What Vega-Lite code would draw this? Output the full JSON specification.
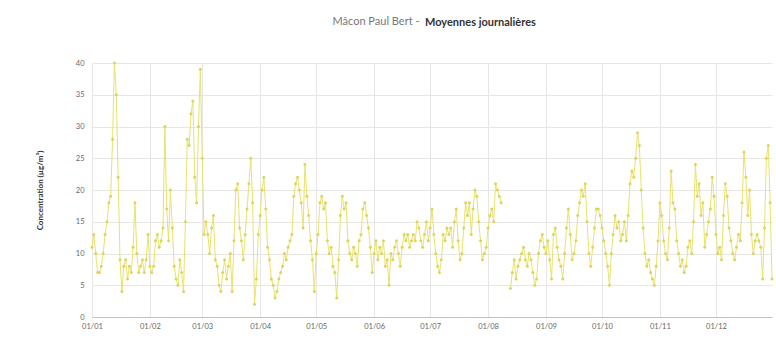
{
"$schema": "https://vega.github.io/schema/vega-lite/v6.json",
"width": 680, "height": 254,
"autosize": "none",
"padding": {"left": 92, "top": 63, "right": 4, "bottom": 26},
"background": "white",
"config": {"view": {"stroke": null}, "font": "Lato"},
"title": {"text": "Moyennes journalières", "anchor": "start", "frame": "group", "dx": 333, "offset": -13, "fontSize": 11, "fontWeight": "bold", "color": "#333333", "font": "Lato"},
"data": {"values": [
{"d":"2018-01-01","v":11},{"d":"2018-01-02","v":13},{"d":"2018-01-03","v":10},{"d":"2018-01-04","v":7},{"d":"2018-01-05","v":7},{"d":"2018-01-06","v":8},{"d":"2018-01-07","v":10},{"d":"2018-01-08","v":13},{"d":"2018-01-09","v":15},{"d":"2018-01-10","v":18},{"d":"2018-01-11","v":19},{"d":"2018-01-12","v":28},{"d":"2018-01-13","v":40},{"d":"2018-01-14","v":35},{"d":"2018-01-15","v":22},{"d":"2018-01-16","v":9},{"d":"2018-01-17","v":4},{"d":"2018-01-18","v":8},{"d":"2018-01-19","v":9},{"d":"2018-01-20","v":6},{"d":"2018-01-21","v":8},{"d":"2018-01-22","v":7},{"d":"2018-01-23","v":11},{"d":"2018-01-24","v":18},{"d":"2018-01-25","v":10},{"d":"2018-01-26","v":7},{"d":"2018-01-27","v":8},{"d":"2018-01-28","v":9},{"d":"2018-01-29","v":7},{"d":"2018-01-30","v":9},{"d":"2018-01-31","v":13},
{"d":"2018-02-01","v":8},{"d":"2018-02-02","v":7},{"d":"2018-02-03","v":8},{"d":"2018-02-04","v":12},{"d":"2018-02-05","v":13},{"d":"2018-02-06","v":11},{"d":"2018-02-07","v":12},{"d":"2018-02-08","v":14},{"d":"2018-02-09","v":30},{"d":"2018-02-10","v":17},{"d":"2018-02-11","v":12},{"d":"2018-02-12","v":20},{"d":"2018-02-13","v":14},{"d":"2018-02-14","v":8},{"d":"2018-02-15","v":6},{"d":"2018-02-16","v":5},{"d":"2018-02-17","v":9},{"d":"2018-02-18","v":7},{"d":"2018-02-19","v":4},{"d":"2018-02-20","v":15},{"d":"2018-02-21","v":28},{"d":"2018-02-22","v":27},{"d":"2018-02-23","v":32},{"d":"2018-02-24","v":34},{"d":"2018-02-25","v":22},{"d":"2018-02-26","v":18},{"d":"2018-02-27","v":30},{"d":"2018-02-28","v":39},
{"d":"2018-03-01","v":25},{"d":"2018-03-02","v":13},{"d":"2018-03-03","v":15},{"d":"2018-03-04","v":13},{"d":"2018-03-05","v":10},{"d":"2018-03-06","v":14},{"d":"2018-03-07","v":16},{"d":"2018-03-08","v":9},{"d":"2018-03-09","v":8},{"d":"2018-03-10","v":5},{"d":"2018-03-11","v":4},{"d":"2018-03-12","v":7},{"d":"2018-03-13","v":9},{"d":"2018-03-14","v":6},{"d":"2018-03-15","v":8},{"d":"2018-03-16","v":10},{"d":"2018-03-17","v":4},{"d":"2018-03-18","v":12},{"d":"2018-03-19","v":20},{"d":"2018-03-20","v":21},{"d":"2018-03-21","v":14},{"d":"2018-03-22","v":12},{"d":"2018-03-23","v":9},{"d":"2018-03-24","v":13},{"d":"2018-03-25","v":17},{"d":"2018-03-26","v":21},{"d":"2018-03-27","v":25},{"d":"2018-03-28","v":18},{"d":"2018-03-29","v":2},{"d":"2018-03-30","v":6},{"d":"2018-03-31","v":13},
{"d":"2018-04-01","v":16},{"d":"2018-04-02","v":20},{"d":"2018-04-03","v":22},{"d":"2018-04-04","v":17},{"d":"2018-04-05","v":11},{"d":"2018-04-06","v":9},{"d":"2018-04-07","v":6},{"d":"2018-04-08","v":5},{"d":"2018-04-09","v":3},{"d":"2018-04-10","v":4},{"d":"2018-04-11","v":6},{"d":"2018-04-12","v":7},{"d":"2018-04-13","v":8},{"d":"2018-04-14","v":10},{"d":"2018-04-15","v":9},{"d":"2018-04-16","v":11},{"d":"2018-04-17","v":12},{"d":"2018-04-18","v":13},{"d":"2018-04-19","v":19},{"d":"2018-04-20","v":21},{"d":"2018-04-21","v":22},{"d":"2018-04-22","v":20},{"d":"2018-04-23","v":18},{"d":"2018-04-24","v":14},{"d":"2018-04-25","v":24},{"d":"2018-04-26","v":19},{"d":"2018-04-27","v":16},{"d":"2018-04-28","v":12},{"d":"2018-04-29","v":9},{"d":"2018-04-30","v":4},
{"d":"2018-05-01","v":10},{"d":"2018-05-02","v":13},{"d":"2018-05-03","v":18},{"d":"2018-05-04","v":19},{"d":"2018-05-05","v":17},{"d":"2018-05-06","v":18},{"d":"2018-05-07","v":12},{"d":"2018-05-08","v":10},{"d":"2018-05-09","v":11},{"d":"2018-05-10","v":8},{"d":"2018-05-11","v":7},{"d":"2018-05-12","v":3},{"d":"2018-05-13","v":9},{"d":"2018-05-14","v":16},{"d":"2018-05-15","v":19},{"d":"2018-05-16","v":17},{"d":"2018-05-17","v":18},{"d":"2018-05-18","v":12},{"d":"2018-05-19","v":10},{"d":"2018-05-20","v":9},{"d":"2018-05-21","v":11},{"d":"2018-05-22","v":10},{"d":"2018-05-23","v":8},{"d":"2018-05-24","v":12},{"d":"2018-05-25","v":13},{"d":"2018-05-26","v":17},{"d":"2018-05-27","v":18},{"d":"2018-05-28","v":16},{"d":"2018-05-29","v":14},{"d":"2018-05-30","v":11},{"d":"2018-05-31","v":7},
{"d":"2018-06-01","v":10},{"d":"2018-06-02","v":12},{"d":"2018-06-03","v":9},{"d":"2018-06-04","v":11},{"d":"2018-06-05","v":10},{"d":"2018-06-06","v":12},{"d":"2018-06-07","v":8},{"d":"2018-06-08","v":9},{"d":"2018-06-09","v":5},{"d":"2018-06-10","v":10},{"d":"2018-06-11","v":9},{"d":"2018-06-12","v":11},{"d":"2018-06-13","v":12},{"d":"2018-06-14","v":10},{"d":"2018-06-15","v":8},{"d":"2018-06-16","v":11},{"d":"2018-06-17","v":13},{"d":"2018-06-18","v":12},{"d":"2018-06-19","v":13},{"d":"2018-06-20","v":11},{"d":"2018-06-21","v":12},{"d":"2018-06-22","v":13},{"d":"2018-06-23","v":12},{"d":"2018-06-24","v":15},{"d":"2018-06-25","v":14},{"d":"2018-06-26","v":12},{"d":"2018-06-27","v":11},{"d":"2018-06-28","v":13},{"d":"2018-06-29","v":15},{"d":"2018-06-30","v":12},
{"d":"2018-07-01","v":14},{"d":"2018-07-02","v":17},{"d":"2018-07-03","v":13},{"d":"2018-07-04","v":10},{"d":"2018-07-05","v":8},{"d":"2018-07-06","v":7},{"d":"2018-07-07","v":9},{"d":"2018-07-08","v":13},{"d":"2018-07-09","v":12},{"d":"2018-07-10","v":14},{"d":"2018-07-11","v":13},{"d":"2018-07-12","v":14},{"d":"2018-07-13","v":11},{"d":"2018-07-14","v":15},{"d":"2018-07-15","v":17},{"d":"2018-07-16","v":12},{"d":"2018-07-17","v":9},{"d":"2018-07-18","v":10},{"d":"2018-07-19","v":14},{"d":"2018-07-20","v":18},{"d":"2018-07-21","v":16},{"d":"2018-07-22","v":18},{"d":"2018-07-23","v":13},{"d":"2018-07-24","v":17},{"d":"2018-07-25","v":20},{"d":"2018-07-26","v":19},{"d":"2018-07-27","v":15},{"d":"2018-07-28","v":12},{"d":"2018-07-29","v":9},{"d":"2018-07-30","v":10},{"d":"2018-07-31","v":11},
{"d":"2018-08-01","v":14},{"d":"2018-08-02","v":16},{"d":"2018-08-03","v":17},{"d":"2018-08-04","v":15},{"d":"2018-08-05","v":21},{"d":"2018-08-06","v":20},{"d":"2018-08-07","v":19},{"d":"2018-08-08","v":18},{"d":"2018-08-09","v":null},{"d":"2018-08-10","v":null},{"d":"2018-08-11","v":null},{"d":"2018-08-12","v":null},{"d":"2018-08-13","v":4.5},{"d":"2018-08-14","v":7},{"d":"2018-08-15","v":9},{"d":"2018-08-16","v":6},{"d":"2018-08-17","v":8},{"d":"2018-08-18","v":9},{"d":"2018-08-19","v":10},{"d":"2018-08-20","v":11},{"d":"2018-08-21","v":9},{"d":"2018-08-22","v":8},{"d":"2018-08-23","v":10},{"d":"2018-08-24","v":9},{"d":"2018-08-25","v":7},{"d":"2018-08-26","v":5},{"d":"2018-08-27","v":6},{"d":"2018-08-28","v":10},{"d":"2018-08-29","v":12},{"d":"2018-08-30","v":13},{"d":"2018-08-31","v":11},
{"d":"2018-09-01","v":10},{"d":"2018-09-02","v":12},{"d":"2018-09-03","v":9},{"d":"2018-09-04","v":6},{"d":"2018-09-05","v":13},{"d":"2018-09-06","v":14},{"d":"2018-09-07","v":11},{"d":"2018-09-08","v":9},{"d":"2018-09-09","v":8},{"d":"2018-09-10","v":6},{"d":"2018-09-11","v":10},{"d":"2018-09-12","v":14},{"d":"2018-09-13","v":17},{"d":"2018-09-14","v":13},{"d":"2018-09-15","v":9},{"d":"2018-09-16","v":10},{"d":"2018-09-17","v":12},{"d":"2018-09-18","v":16},{"d":"2018-09-19","v":18},{"d":"2018-09-20","v":20},{"d":"2018-09-21","v":19},{"d":"2018-09-22","v":21},{"d":"2018-09-23","v":15},{"d":"2018-09-24","v":10},{"d":"2018-09-25","v":8},{"d":"2018-09-26","v":11},{"d":"2018-09-27","v":14},{"d":"2018-09-28","v":17},{"d":"2018-09-29","v":17},{"d":"2018-09-30","v":16},
{"d":"2018-10-01","v":14},{"d":"2018-10-02","v":12},{"d":"2018-10-03","v":10},{"d":"2018-10-04","v":8},{"d":"2018-10-05","v":5},{"d":"2018-10-06","v":10},{"d":"2018-10-07","v":13},{"d":"2018-10-08","v":16},{"d":"2018-10-09","v":14},{"d":"2018-10-10","v":15},{"d":"2018-10-11","v":12},{"d":"2018-10-12","v":13},{"d":"2018-10-13","v":15},{"d":"2018-10-14","v":12},{"d":"2018-10-15","v":16},{"d":"2018-10-16","v":21},{"d":"2018-10-17","v":23},{"d":"2018-10-18","v":22},{"d":"2018-10-19","v":25},{"d":"2018-10-20","v":29},{"d":"2018-10-21","v":27},{"d":"2018-10-22","v":20},{"d":"2018-10-23","v":14},{"d":"2018-10-24","v":10},{"d":"2018-10-25","v":8},{"d":"2018-10-26","v":9},{"d":"2018-10-27","v":7},{"d":"2018-10-28","v":6},{"d":"2018-10-29","v":5},{"d":"2018-10-30","v":8},{"d":"2018-10-31","v":12},
{"d":"2018-11-01","v":18},{"d":"2018-11-02","v":16},{"d":"2018-11-03","v":12},{"d":"2018-11-04","v":10},{"d":"2018-11-05","v":9},{"d":"2018-11-06","v":14},{"d":"2018-11-07","v":23},{"d":"2018-11-08","v":18},{"d":"2018-11-09","v":17},{"d":"2018-11-10","v":12},{"d":"2018-11-11","v":10},{"d":"2018-11-12","v":8},{"d":"2018-11-13","v":9},{"d":"2018-11-14","v":7},{"d":"2018-11-15","v":8},{"d":"2018-11-16","v":11},{"d":"2018-11-17","v":12},{"d":"2018-11-18","v":10},{"d":"2018-11-19","v":15},{"d":"2018-11-20","v":24},{"d":"2018-11-21","v":19},{"d":"2018-11-22","v":21},{"d":"2018-11-23","v":16},{"d":"2018-11-24","v":18},{"d":"2018-11-25","v":11},{"d":"2018-11-26","v":13},{"d":"2018-11-27","v":15},{"d":"2018-11-28","v":17},{"d":"2018-11-29","v":22},{"d":"2018-11-30","v":19},
{"d":"2018-12-01","v":13},{"d":"2018-12-02","v":10},{"d":"2018-12-03","v":11},{"d":"2018-12-04","v":9},{"d":"2018-12-05","v":16},{"d":"2018-12-06","v":21},{"d":"2018-12-07","v":19},{"d":"2018-12-08","v":14},{"d":"2018-12-09","v":12},{"d":"2018-12-10","v":10},{"d":"2018-12-11","v":9},{"d":"2018-12-12","v":11},{"d":"2018-12-13","v":13},{"d":"2018-12-14","v":12},{"d":"2018-12-15","v":18},{"d":"2018-12-16","v":26},{"d":"2018-12-17","v":22},{"d":"2018-12-18","v":16},{"d":"2018-12-19","v":20},{"d":"2018-12-20","v":13},{"d":"2018-12-21","v":10},{"d":"2018-12-22","v":12},{"d":"2018-12-23","v":13},{"d":"2018-12-24","v":12},{"d":"2018-12-25","v":11},{"d":"2018-12-26","v":6},{"d":"2018-12-27","v":14},{"d":"2018-12-28","v":25},{"d":"2018-12-29","v":27},{"d":"2018-12-30","v":18},{"d":"2018-12-31","v":6}
]},
"resolve": {"axis": {"x": "independent"}},
"layer": [
{
"mark": {"type": "line", "color": "#e9e26c", "strokeWidth": 1, "invalid": "break-paths-filter-domains"},
"encoding": {
"x": {"field": "d", "type": "temporal",
"scale": {"type": "utc", "domain": ["2018-01-01", "2018-12-31"]},
"axis": {"title": null, "labelExpr": "utcFormat(datum.value, '%d/%m')", "tickCount": {"interval": "month", "step": 1}, "grid": true, "gridColor": "#e6e6e6", "domainColor": "#c0c0c0", "ticks": false, "labelFontSize": 7.5, "labelColor": "#666666", "labelPadding": 5, "labelFlush": false}},
"y": {"field": "v", "type": "quantitative",
"scale": {"domain": [0, 40], "nice": false},
"axis": {"values": [0, 5, 10, 15, 20, 25, 30, 35, 40], "labelOverlap": false, "grid": true, "gridColor": "#e6e6e6", "domain": false, "ticks": false, "labelFontSize": 7.5, "labelColor": "#666666", "labelPadding": 8,
"title": "Concentration (µg/m³)", "titleFontSize": 8, "titleFontWeight": "bold", "titleColor": "#333333", "titleAngle": -90, "titleX": -52, "titleY": 127, "titleAlign": "center", "titleBaseline": "middle"}}
}
},
{
"mark": {"type": "point", "filled": true, "size": 9, "opacity": 1, "color": "#ddd55a"},
"encoding": {
"x": {"field": "d", "type": "temporal", "scale": {"type": "utc", "domain": ["2018-01-01", "2018-12-31"]},
"axis": {"orient": "top", "labels": false, "ticks": false, "domain": false, "grid": false,
"title": "Mâcon Paul Bert -", "titleFontSize": 11, "titleFontWeight": "normal", "titleColor": "#777777", "titleX": 327, "titleY": -42, "titleAlign": "right", "titleBaseline": "middle"}},
"y": {"field": "v", "type": "quantitative",
"scale": {"domain": [0, 40], "nice": false},
"axis": {"values": [0, 5, 10, 15, 20, 25, 30, 35, 40], "labelOverlap": false, "grid": true, "gridColor": "#e6e6e6", "domain": false, "ticks": false, "labelFontSize": 7.5, "labelColor": "#666666", "labelPadding": 8,
"title": "Concentration (µg/m³)", "titleFontSize": 8, "titleFontWeight": "bold", "titleColor": "#333333", "titleAngle": -90, "titleX": -52, "titleY": 127, "titleAlign": "center", "titleBaseline": "middle"}}
}
}
]
}
